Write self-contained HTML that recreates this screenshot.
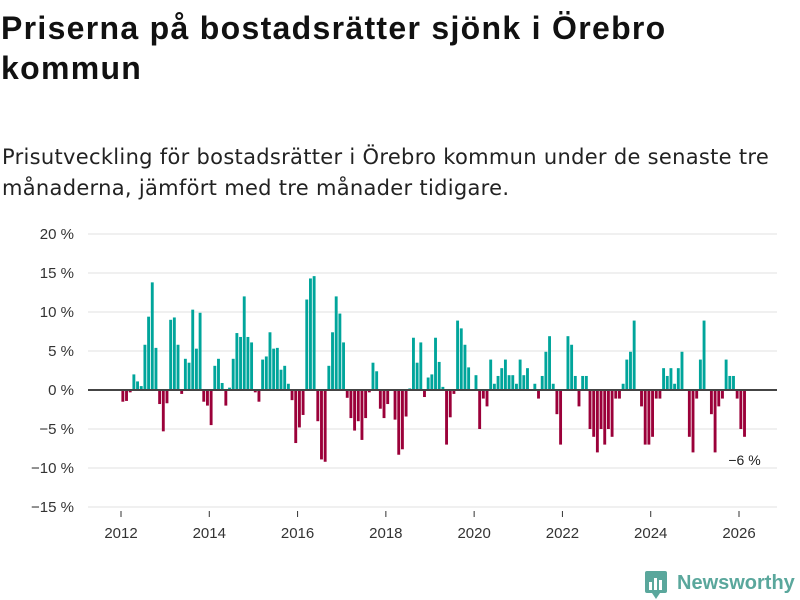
<!DOCTYPE html>
<html><head><meta charset="utf-8"><style>
body{margin:0;width:800px;height:600px;background:#fff;font-family:"Liberation Sans","DejaVu Sans",sans-serif;overflow:hidden;position:relative}
h1{position:absolute;left:1px;top:8px;margin:0;font-size:32px;letter-spacing:1.3px;line-height:40px;font-weight:bold;color:#111;width:720px}
.sub{position:absolute;left:2px;top:142px;margin:0;font-family:"DejaVu Sans",sans-serif;font-size:21px;letter-spacing:0.3px;line-height:31px;color:#222;width:795px}
svg{position:absolute;left:0;top:0}
</style></head><body>
<h1>Priserna på bostadsrätter sjönk i Örebro kommun</h1>
<p class="sub">Prisutveckling för bostadsrätter i Örebro kommun under de senaste tre månaderna, jämfört med tre månader tidigare.</p>
<svg id="chart" width="800" height="600"></svg>
<script>
const yTicks=[20,15,10,5,0,-5,-10,-15];
const xTickYears=[2012,2014,2016,2018,2020,2022,2024,2026];
const startYear=2012;
const values=[
-1.5,-1.4,-0.3,2.0,1.1,0.5,5.8,9.4,13.8,5.4,-1.8,-5.3,-1.7,9.0,9.3,5.8,-0.5,4.0,3.5,10.3,5.3,9.9,-1.5,-2.0,-4.5,3.1,4.0,0.9,-2.0,0.3,4.0,7.3,6.8,12.0,
6.8,6.1,-0.3,-1.5,3.9,4.3,7.4,5.3,5.4,2.6,3.1,0.8,-1.3,-6.8,-4.8,-3.2,11.6,14.3,14.6,-4.0,-8.9,-9.2,3.1,7.4,12.0,9.8,6.1,-1.0,-3.6,-5.2,-4.0,-6.4,-3.6,-0.3,3.5,
2.4,-2.4,-3.6,-1.8,0,-3.8,-8.3,-7.6,-3.4,0.2,6.7,3.5,6.1,-0.9,1.6,2.0,6.7,3.6,0.4,-7.0,-3.5,-0.5,8.9,7.9,5.8,2.9,0,1.9,-5.0,-1.1,-2.1,3.9,0.8,1.8,2.8,
3.9,1.9,1.9,0.8,3.9,1.9,2.8,0,0.8,-1.1,1.8,4.9,6.9,0.8,-3.1,-7.0,0,6.9,5.8,1.8,-2.1,1.8,1.8,-5.0,-6.0,-8.0,-5.0,-7.0,-5.0,-6.0,-1.1,-1.1,0.8,3.9,4.9,8.9,
0,-2.1,-7.0,-7.0,-6.0,-1.1,-1.1,2.8,1.8,2.8,0.8,2.8,4.9,0,-6.0,-8.0,-1.1,3.9,8.9,0,-3.1,-8.0,-2.1,-1.1,3.9,1.8,1.8,-1.1,-5.0,-6.0];
const lastLabel="−6 %";
const NS="http://www.w3.org/2000/svg";
const svg=document.getElementById('chart');
const y=v=>390-v*7.8;
const monthW=(739-121)/168;
const x=i=>121+i*monthW;
function mk(t,a,p){const e=document.createElementNS(NS,t);for(const k in a)e.setAttribute(k,a[k]);(p||svg).appendChild(e);return e;}
yTicks.forEach(t=>{
  if(t!==0){const g=mk('line',{x1:88,x2:777,y1:y(t),y2:y(t),stroke:'#e0e0e0','stroke-width':1});
  
  }
  const l=mk('text',{x:74,y:y(t)+5,'text-anchor':'end','font-size':15,fill:'#333'});
  l.textContent=(t<0?'−'+(-t):t)+' %';
  
  
});
xTickYears.forEach(yr=>{
  const xx=x((yr-startYear)*12);
  const tk=mk('line',{x1:xx,x2:xx,y1:511,y2:517,stroke:'#333','stroke-width':1});
  
  
  const l=mk('text',{x:xx,y:538,'text-anchor':'middle','font-size':15,fill:'#333'});
  l.textContent=yr;
  
  
});
values.forEach((v,i)=>{
  if(v===0)return;
  const r=mk('rect',{x:x(i)+0.4,width:monthW-0.8,y:Math.min(y(v),390),height:Math.abs(y(v)-390),fill:v>0?'#00a59b':'#9b0039'});
  
  
});
const z=mk('line',{x1:88,x2:777,y1:390,y2:390,stroke:'#444','stroke-width':2});


const li=values.length-1;
const an=mk('text',{x:x(li)+monthW/2,y:y(values[li])+28,'text-anchor':'middle','font-size':14,fill:'#222'});
an.textContent=lastLabel;


</script>
<svg width="800" height="600" style="pointer-events:none">
<rect x="645" y="571" width="22" height="22" rx="2" fill="#5aa79c"/>
<rect x="649" y="582" width="3" height="8" fill="#fff"/><rect x="654" y="578" width="3" height="12" fill="#fff"/><rect x="659" y="580" width="3" height="10" fill="#fff"/>
<polygon points="652,593 660,593 656,599" fill="#5aa79c"/>
<text x="677" y="589" font-size="20" font-weight="bold" fill="#5aa79c" font-family="Liberation Sans, sans-serif">Newsworthy</text>
</svg>
</body></html>
